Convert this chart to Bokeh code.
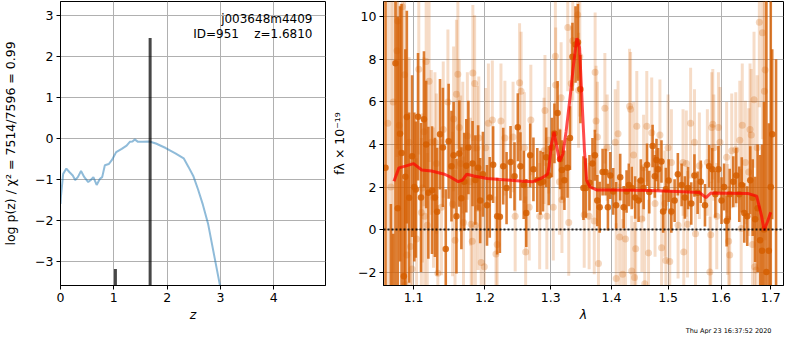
import numpy as np
from bokeh.plotting import figure
from bokeh.layouts import row
from bokeh.models import Range1d, FixedTicker, Label, Span, CustomJSTickFormatter, Title
from bokeh.embed import file_html
from bokeh.resources import INLINE

# ---------------- left panel: p(z) ----------------
pz_z = [0.0, 0.007, 0.05, 0.11, 0.17, 0.23, 0.275, 0.325, 0.385, 0.447,
        0.52, 0.568, 0.617, 0.678, 0.74, 0.782, 0.832, 0.905, 0.965, 1.044,
        1.148, 1.24, 1.30, 1.35, 1.392, 1.454, 1.545, 1.667, 1.79, 1.973,
        2.155, 2.31, 2.40, 2.49, 2.58, 2.67, 2.77, 2.89, 2.985, 3.03]
pz_logp = [-1.60, -1.44, -0.87, -0.74, -0.83, -0.91, -1.02, -0.95, -0.80, -0.95,
           -1.07, -1.02, -0.95, -1.14, -0.99, -0.95, -0.66, -0.63, -0.53, -0.34,
           -0.26, -0.18, -0.09, -0.08, -0.03, -0.09, -0.09, -0.08, -0.13, -0.24,
           -0.37, -0.49, -0.70, -0.92, -1.25, -1.62, -2.1, -2.91, -3.55, -3.9]
peak_z = [1.03, 1.681]
peak_val = [-3.19, 2.44]
z_ticks = [0, 1, 2, 3, 4]
logp_ticks = [-3, -2, -1, 0, 1, 2, 3]
z_lim = (0.0, 4.97)
logp_lim = (-3.59, 3.33)

# ---------------- right panel: spectrum ----------------
dark_wave = [1.063, 1.070, 1.073, 1.076, 1.079, 1.082, 1.084, 1.087, 1.089, 1.091,
             1.094, 1.098, 1.101, 1.103, 1.106, 1.110, 1.114, 1.117, 1.120, 1.125,
             1.129, 1.132, 1.136, 1.140, 1.144, 1.148, 1.152, 1.155, 1.159, 1.163,
             1.166, 1.170, 1.173, 1.176, 1.182, 1.186, 1.190, 1.193, 1.197, 1.203,
             1.207, 1.212, 1.218, 1.222, 1.227, 1.232, 1.238, 1.244, 1.249, 1.253,
             1.258, 1.262, 1.268, 1.273, 1.279, 1.284, 1.288, 1.293, 1.297, 1.302,
             1.306, 1.311, 1.315, 1.318, 1.322, 1.327, 1.331, 1.335, 1.340, 1.344,
             1.348, 1.353, 1.357, 1.363, 1.368, 1.372, 1.376, 1.380, 1.385, 1.390,
             1.394, 1.398, 1.403, 1.408, 1.415, 1.421, 1.426, 1.430, 1.435, 1.441,
             1.447, 1.451, 1.456, 1.462, 1.466, 1.472, 1.476, 1.479, 1.482, 1.488,
             1.491, 1.496, 1.501, 1.506, 1.512, 1.518, 1.525, 1.531, 1.537, 1.543,
             1.549, 1.555, 1.561, 1.569, 1.577, 1.583, 1.589, 1.595, 1.601, 1.606,
             1.611, 1.617, 1.624, 1.630, 1.636, 1.641, 1.646, 1.652, 1.658, 1.663,
             1.668, 1.673, 1.678, 1.682, 1.686, 1.691, 1.696, 1.700, 1.703, 1.711]
dark_flux = [2.9, -3.0, -3.6, 7.82, 1.0, 4.5, 3.6, -2.2, 2.48, 5.29,
             1.5, 3.45, 2.0, 1.88, 5.3, 1.51, 5.18, 4.0, 1.73, 1.85,
             1.51, 0.84, 4.48, 3.86, -0.91, 4.15, 2.98, 3.49, 0.63, 3.57,
             1.47, 2.25, 3.0, 3.86, 3.1, 2.33, 2.9, 1.36, 2.6, 1.14,
             1.51, 3.05, 0.63, 0.6, 2.98, 1.95, 3.17, 2.5, 4.81, 2.97,
             2.1, 0.78, 3.49, 2.83, 2.33, 2.2, 2.25, 3.4, 2.54, 3.86,
             4.52, 5.48, 3.3, 2.8, 2.32, 2.9, 4.3, 8.12, 8.7, 8.8,
             6.6, 1.95, 1.95, 2.2, 3.1, 3.49, 1.36, 1.05, 2.7, 2.7,
             1.05, 2.54, 1.79, 1.14, 2.46, 1.05, 1.79, 2.1, 1.95, 1.51,
             1.36, 2.3, 1.95, 3.05, 1.76, 3.93, 2.5, 3.27, 2.83, 3.2,
             0.85, 1.9, 2.3, 0.85, 1.36, 2.6, 2.1, 1.51, 1.95, 1.22,
             2.54, 1.73, 2.25, 1.14, 2.98, 2.83, 1.66, 2.83, 1.36, 2.0,
             0.4, 1.66, 2.25, 2.54, 1.66, 2.1, 0.78, 0.63, 2.32, 1.5,
             0.48, 1.0, -0.5, -1.0, 0.0, -2.0, -1.0, 2.0, 4.48, -3.0]
dark_err = [25, 4.2, 3.4, 11, 9, 6, 7, 4.5, 6, 5,
            4, 3.8, 3.5, 3.2, 3.0, 3.5, 3.2, 3.0, 3.1, 3.0,
            2.8, 3.0, 2.6, 2.8, 2.8, 2.7, 2.6, 2.5, 2.7, 2.5,
            2.4, 2.3, 2.2, 2.2, 2.0, 2.1, 2.0, 2.0, 2.0, 1.9,
            1.9, 1.8, 1.8, 1.7, 1.8, 1.7, 1.7, 1.6, 1.6, 1.6,
            1.6, 1.6, 1.5, 1.5, 1.5, 1.5, 1.4, 1.4, 1.4, 1.4,
            1.4, 1.5, 1.4, 1.4, 1.4, 1.4, 1.5, 1.6, 1.8, 1.8,
            1.6, 1.5, 1.4, 1.3, 1.2, 1.2, 1.2, 1.2, 1.1, 1.1,
            1.1, 1.1, 1.1, 1.1, 1.1, 1.0, 1.0, 1.0, 1.0, 1.0,
            1.0, 1.0, 1.0, 1.0, 1.0, 1.0, 1.0, 1.0, 1.0, 1.0,
            1.0, 1.0, 1.0, 1.0, 1.0, 1.0, 1.0, 1.0, 1.0, 1.0,
            1.0, 1.0, 1.0, 1.0, 1.0, 1.0, 1.1, 1.1, 1.1, 1.1,
            1.2, 1.2, 1.2, 1.3, 1.3, 1.3, 1.4, 1.4, 1.6, 1.8,
            2.0, 3.0, 4.0, 5.0, 6.0, 14, 6.0, 30, 4.0, 11]

light_wave = [1.066, 1.070, 1.073, 1.078, 1.079, 1.081, 1.085, 1.088, 1.089, 1.091,
              1.094, 1.096, 1.098, 1.104, 1.107, 1.1105, 1.112, 1.114, 1.115, 1.117,
              1.1185, 1.121, 1.124, 1.127, 1.129, 1.131, 1.133, 1.138, 1.1405, 1.147,
              1.1535, 1.155, 1.157, 1.159, 1.161, 1.163, 1.165, 1.168, 1.169, 1.1745,
              1.179, 1.180, 1.1816, 1.1824, 1.185, 1.186, 1.1885, 1.190, 1.191, 1.1945,
              1.199, 1.201, 1.205, 1.2108, 1.2162, 1.218, 1.2236, 1.2295, 1.2418, 1.245,
              1.2517, 1.254, 1.259, 1.261, 1.2665, 1.269, 1.2827, 1.2895, 1.291, 1.294,
              1.297, 1.3042, 1.3075, 1.308, 1.314, 1.3167, 1.318, 1.3274, 1.329, 1.333,
              1.3355, 1.3436, 1.345, 1.347, 1.3543, 1.3624, 1.371, 1.3724, 1.374, 1.3763,
              1.378, 1.3888, 1.3927, 1.4065, 1.4082, 1.4113, 1.414, 1.4193, 1.4241, 1.4312,
              1.433, 1.435, 1.4383, 1.440, 1.442, 1.4439, 1.4529, 1.4559, 1.458, 1.4616,
              1.4647, 1.4704, 1.4764, 1.4852, 1.4882, 1.4941, 1.496, 1.500, 1.5031, 1.5061,
              1.5184, 1.5276, 1.529, 1.5337, 1.536, 1.5418, 1.5491, 1.551, 1.5583, 1.5736,
              1.5784, 1.580, 1.582, 1.584, 1.586, 1.5917, 1.595, 1.598, 1.611, 1.613,
              1.615, 1.617, 1.621, 1.629, 1.637, 1.6398, 1.642, 1.6483, 1.655, 1.6576,
              1.660, 1.6627, 1.6657, 1.667, 1.670, 1.672, 1.6765, 1.6829, 1.6868, 1.6882]
light_flux = [5.0, 2.0, 6.0, 8.41, 9.8, 4.9, 10.47, 7.28, -2.6, -1.2,
              4.1, -0.8, -1.85, -0.45, 7.53, 0.8, 1.95, 4.6, 0.63, 7.9,
              0.2, 6.97, 4.1, 1.5, 4.1, 3.1, -2.05, 1.05, 4.7, 6.0,
              1.2, 5.2, -0.5, 6.36, 7.3, 4.8, 3.1, 3.85, 0.33, 4.4,
              2.25, 0.25, -0.55, 7.36, 6.87, 0.2, 3.85, 1.0, 4.3, -1.55,
              -1.75, 3.85, 5.0, 5.15, -1.15, -0.7, 5.1, 4.3, 4.35, 0.63,
              6.9, 6.5, 3.85, -1.05, 1.05, 5.15, 0.63, 3.7, 5.6, 0.63,
              4.2, 1.05, 8.15, 6.8, 2.25, 6.2, 1.4, 9.5, 0.33, 6.86,
              8.87, 10.1, 6.55, 8.12, 0.7, 0.63, 0.4, 7.4, 5.1, 4.35,
              -1.6, 5.7, 3.85, 4.1, -2.3, 4.5, -0.35, -2.1, -0.45, 5.8,
              5.65, -1.95, 3.5, -2.25, -0.9, 4.85, 0.5, 2.9, -2.55, 4.85,
              -1.1, 4.55, 1.22, 4.45, -0.85, 1.22, -1.45, 3.85, -1.5, 3.15,
              0.2, 3.15, -1.05, 3.1, 0.25, 5.0, 4.1, -0.2, 3.0, 3.15,
              -2.0, -0.25, 4.8, 4.95, 3.85, 0.63, 4.8, 4.1, 3.4, 0.48,
              -0.55, -1.2, 3.7, 3.75, 4.2, 0.05, 4.9, 3.15, 2.7, 4.7,
              4.45, -0.7, 6.1, -1.75, -1.9, 3.85, 9.75, 9.25, 6.5, 7.5]
light_err = [8, 9, 8, 5, 6, 5, 6, 5, 4, 4,
             4, 4, 3.8, 3.8, 4, 3.5, 3.5, 3.5, 3.5, 4,
             3.4, 3.8, 3.4, 3.3, 3.3, 3.3, 3.2, 3.2, 3.2, 3.4,
             3.4, 3.4, 3.3, 3.5, 3.5, 3.2, 3.2, 3.1, 3.1, 3.0,
             3.0, 3.0, 3.0, 3.2, 3.2, 2.9, 2.9, 2.9, 2.9, 2.8,
             2.8, 2.8, 2.8, 2.8, 2.7, 2.7, 2.7, 2.7, 2.6, 2.6,
             2.8, 2.8, 2.6, 2.6, 2.5, 2.6, 2.5, 2.5, 2.6, 2.5,
             2.5, 2.5, 2.8, 2.7, 2.5, 2.6, 2.5, 3.0, 2.5, 2.7,
             2.8, 3.0, 2.7, 2.8, 2.5, 2.5, 2.5, 2.8, 2.6, 2.6,
             2.5, 2.6, 2.5, 2.5, 2.6, 2.5, 2.5, 2.6, 2.5, 2.7,
             2.7, 2.6, 2.5, 2.6, 2.5, 2.6, 2.5, 2.5, 2.6, 2.6,
             2.5, 2.6, 2.5, 2.6, 2.5, 2.5, 2.5, 2.5, 2.5, 2.5,
             2.5, 2.5, 2.5, 2.5, 2.5, 2.6, 2.5, 2.5, 2.5, 2.5,
             2.6, 2.5, 2.6, 2.6, 2.5, 2.5, 2.6, 2.6, 2.6, 2.6,
             2.6, 2.7, 2.7, 2.7, 2.8, 2.8, 2.9, 2.9, 3.0, 3.1,
             3.1, 3.1, 3.2, 3.2, 3.3, 3.4, 4.0, 5.0, 6.0, 8.0]

model_wave = [1.0740, 1.0805, 1.0890, 1.1000, 1.1110, 1.1243, 1.1423, 1.1515, 1.1616, 1.1677,
              1.1737, 1.1840, 1.2031, 1.2322, 1.2519, 1.2720, 1.2822, 1.2899, 1.2950, 1.2976,
              1.3012, 1.3054, 1.3090, 1.3143, 1.3195, 1.3247, 1.3317, 1.3370, 1.3423, 1.3466,
              1.3514, 1.3547, 1.3584, 1.3639, 1.3747, 1.3996, 1.4681, 1.5278, 1.5585, 1.5710,
              1.5804, 1.6544, 1.6711, 1.6811, 1.6863, 1.6932, 1.6999]
model_flux = [2.27, 2.9, 2.98, 3.1, 2.8, 2.75, 2.6, 2.45, 2.25, 2.33,
              2.6, 2.52, 2.4, 2.33, 2.28, 2.25, 2.37, 2.49, 2.6, 2.98,
              4.0, 4.6, 4.0, 3.2, 3.55, 4.6, 6.36, 7.82, 9.0, 8.56,
              5.62, 3.7, 2.3, 2.0, 1.86, 1.86, 1.83, 1.78, 1.74, 1.5,
              1.72, 1.69, 1.57, 0.63, -0.03, 0.37, 0.81]
wave_ticks = [1.1, 1.2, 1.3, 1.4, 1.5, 1.6, 1.7]
flux_ticks = [-2, 0, 2, 4, 6, 8, 10]
wave_lim = (1.0604, 1.7266)
flux_lim = (-2.63, 10.72)

obj_name = "j003648m4409"
obj_info = "ID=951\u00a0\u00a0\u00a0\u00a0z=1.6810"
timestamp = "Thu Apr 23 16:37:52 2020"

SPEC_COLOR = "#d55e00"
FONT = "DejaVu Sans"
BOTTOM = 47

minus_fmt = CustomJSTickFormatter(code="return String(tick).replace('-', '\\u2212');")


def style(p):
    p.outline_line_color = "black"
    p.outline_line_alpha = 1.0
    p.outline_line_width = 1
    p.background_fill_color = "white"
    p.border_fill_color = "white"
    for ax in p.axis:
        ax.major_tick_in = 0
        ax.major_tick_out = 4
        ax.major_tick_line_color = "black"
        ax.minor_tick_line_color = None
        ax.axis_line_color = "black"
        ax.major_label_text_font = FONT
        ax.major_label_text_font_size = "12.5px"
        ax.major_label_text_color = "black"
        ax.major_label_standoff = 3
        ax.axis_label_text_font = FONT
        ax.axis_label_text_font_size = "12.5px"
        ax.axis_label_text_color = "black"
    p.grid.grid_line_color = "#b0b0b0"
    p.grid.grid_line_width = 1


# ---------- left figure ----------
p1 = figure(width=328, height=334, output_backend="svg", toolbar_location=None,
            x_range=Range1d(*z_lim), y_range=Range1d(*logp_lim),
            min_border_left=58, min_border_right=3, min_border_top=1, min_border_bottom=BOTTOM)
style(p1)
p1.xaxis.ticker = FixedTicker(ticks=z_ticks)
p1.yaxis.ticker = FixedTicker(ticks=logp_ticks)
p1.yaxis.formatter = minus_fmt
p1.xaxis.axis_label = "z"
p1.xaxis.axis_label_text_font_style = "italic"
p1.xaxis.axis_label_standoff = 2
p1.yaxis.axis_label = "log p(z) / χ² = 7514/7596 = 0.99"
p1.yaxis.axis_label_text_font_style = "normal"
p1.yaxis.axis_label_standoff = 14

p1.line(pz_z, pz_logp, line_color="#1f77b4", line_alpha=0.5, line_width=2)
bottom = [logp_lim[0]] * len(peak_z)
p1.segment(x0=peak_z, y0=bottom, x1=peak_z, y1=peak_val,
           line_color="black", line_alpha=0.72, line_width=3)

p1.add_layout(Label(x=252, y=267, x_units="screen", y_units="screen",
                    text=obj_name, text_align="right", text_baseline="middle",
                    text_font=FONT, text_font_size="12px", text_color="black"))
p1.add_layout(Label(x=252, y=252, x_units="screen", y_units="screen",
                    text=obj_info, text_align="right", text_baseline="middle",
                    text_font=FONT, text_font_size="12px", text_color="black"))

# ---------- right figure ----------
p2 = figure(width=456, height=334, output_backend="svg", toolbar_location=None,
            x_axis_type="log", x_range=Range1d(*wave_lim), y_range=Range1d(*flux_lim),
            min_border_left=55, min_border_right=1, min_border_top=1, min_border_bottom=BOTTOM)
style(p2)
p2.xaxis.ticker = FixedTicker(ticks=wave_ticks)
p2.xgrid.ticker = FixedTicker(ticks=wave_ticks)
p2.xaxis.formatter = CustomJSTickFormatter(code="return tick.toFixed(1);")
p2.yaxis.ticker = FixedTicker(ticks=flux_ticks)
p2.yaxis.formatter = minus_fmt
p2.xaxis.axis_label = "λ"
p2.xaxis.axis_label_text_font_style = "italic"
p2.xaxis.axis_label_standoff = 2
p2.yaxis.axis_label = "fλ × 10⁻¹⁹"
p2.yaxis.axis_label_text_font_style = "normal"
p2.yaxis.axis_label_standoff = 8

lw = np.array(light_wave)
lf = np.array(light_flux)
le = np.array(light_err)
p2.segment(x0=lw, y0=lf - le, x1=lw, y1=lf + le,
           line_color=SPEC_COLOR, line_alpha=0.22, line_width=3)
p2.scatter(lw, lf, size=7, fill_color=SPEC_COLOR, fill_alpha=0.25, line_color=None)

dw = np.array(dark_wave)
df = np.array(dark_flux)
de = np.array(dark_err)
p2.segment(x0=dw, y0=df - de, x1=dw, y1=df + de,
           line_color=SPEC_COLOR, line_alpha=0.8, line_width=2.6)
p2.scatter(dw, df, size=6.5, fill_color=SPEC_COLOR, fill_alpha=0.85, line_color=None)

p2.line(model_wave, model_flux, line_color="red", line_alpha=0.7, line_width=3)

p2.add_layout(Span(location=0, dimension="width", line_color="black",
                   line_dash="2 2", line_width=2, line_alpha=0.85))

p2.add_layout(Title(text=timestamp, align="right", offset=12, standoff=0,
                    text_font=FONT, text_font_size="6.5px", text_font_style="normal",
                    text_color="black"), "below")

layout = row(p1, p2)
open("out.html", "w").write(file_html(layout, INLINE, title="grizli fit"))
